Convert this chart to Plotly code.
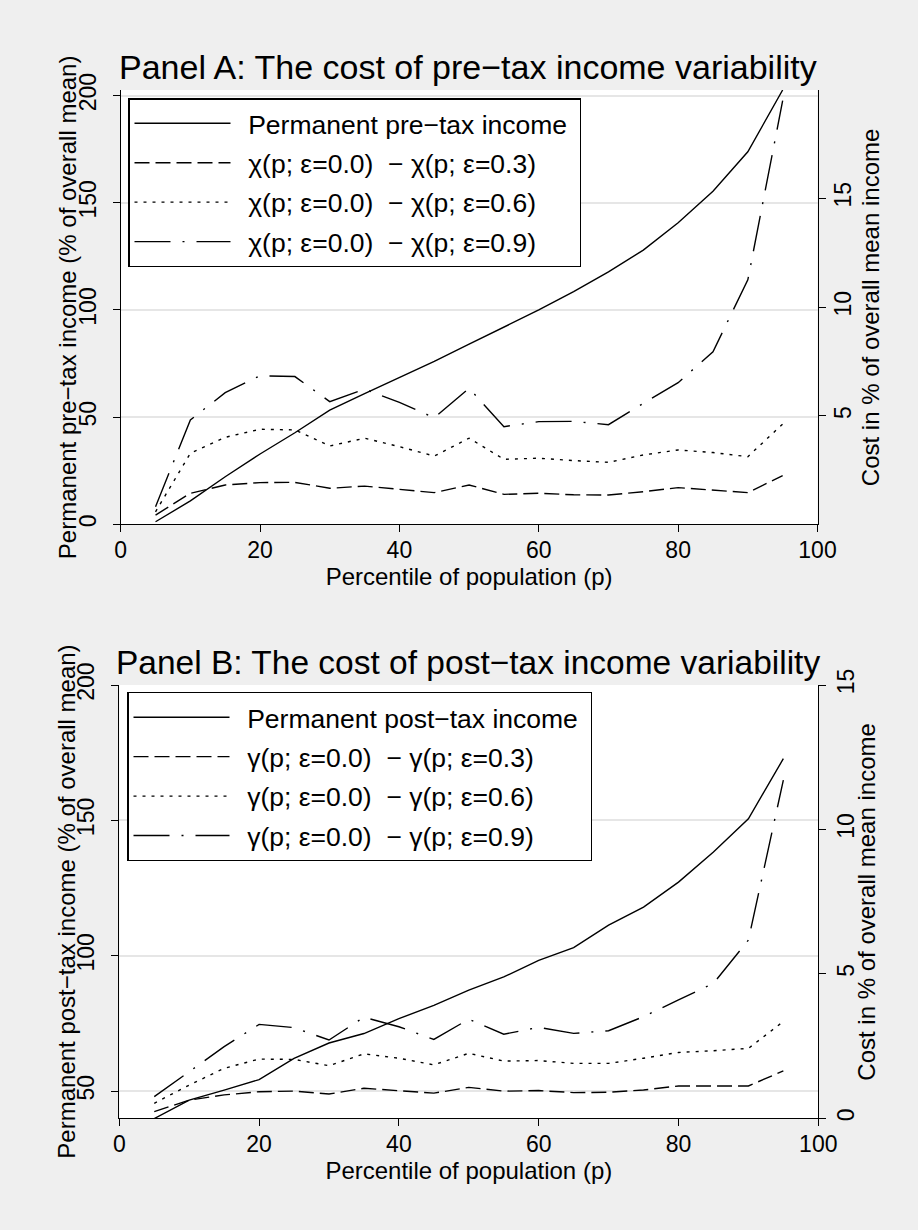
import plotly.graph_objects as go

# ---------------- data ----------------
pct = [5, 10, 15, 20, 25, 30, 35, 40, 45, 50, 55, 60, 65, 70, 75, 80, 85, 90, 95]

# Panel A (pre-tax)
perm_pre = [1.2, 10.9, 22.2, 32.8, 42.7, 53.3, 61.0, 68.5, 76.0, 84.0, 92.0, 100.0,
            108.5, 117.8, 127.9, 140.7, 155.4, 173.8, 202.6]
chi_03 = [0.45, 1.45, 1.83, 1.94, 1.95, 1.68, 1.78, 1.63, 1.48, 1.83, 1.40, 1.45,
          1.38, 1.37, 1.52, 1.71, 1.60, 1.48, 2.26]
chi_06 = [0.60, 3.29, 4.02, 4.39, 4.36, 3.62, 3.98, 3.59, 3.16, 3.98, 3.01, 3.06,
          2.95, 2.87, 3.21, 3.44, 3.32, 3.13, 4.63]
chi_09 = [0.83, 4.82, 6.07, 6.85, 6.81, 5.66, 6.23, 5.62, 4.92, 6.27, 4.51, 4.74,
          4.75, 4.60, 5.58, 6.53, 7.95, 11.25, 19.48]

# Panel B (post-tax)
perm_post = [39.9, 46.7, 50.4, 54.3, 62.1, 67.8, 71.3, 76.8, 81.7, 87.3, 92.2, 98.3,
             103.0, 111.3, 118.0, 127.2, 138.3, 150.6, 172.8]
gam_03 = [0.23, 0.63, 0.81, 0.92, 0.94, 0.84, 1.04, 0.96, 0.87, 1.07, 0.94, 0.96,
          0.89, 0.90, 0.98, 1.12, 1.13, 1.12, 1.64]
gam_06 = [0.52, 1.15, 1.73, 2.05, 2.04, 1.82, 2.23, 2.08, 1.85, 2.25, 1.98, 2.00,
          1.90, 1.90, 2.08, 2.28, 2.34, 2.42, 3.35]
gam_09 = [0.75, 1.61, 2.48, 3.25, 3.14, 2.71, 3.50, 3.17, 2.73, 3.43, 2.91, 3.15,
          2.94, 3.03, 3.52, 4.10, 4.67, 6.17, 11.71]

x_ticks = [0, 20, 40, 60, 80, 100]
a_left_ticks = [0, 50, 100, 150, 200]
a_right_ticks = [0, 5, 10, 15, 20]
b_left_ticks = [50, 100, 150, 200]
b_right_ticks = [0, 5, 10, 15]

a_left_range = [0, 202.6]
a_right_range = [0.025, 19.97]
b_left_range = [40, 200]
b_right_range = [0, 15]

GAP = "\u00a0\u2009"
names_a = [GAP + "Permanent pre\u2212tax income\u00a0",
           GAP + "\u03c7(p; \u03b5=0.0)\u00a0 \u2212 \u03c7(p; \u03b5=0.3)",
           GAP + "\u03c7(p; \u03b5=0.0)\u00a0 \u2212 \u03c7(p; \u03b5=0.6)",
           GAP + "\u03c7(p; \u03b5=0.0)\u00a0 \u2212 \u03c7(p; \u03b5=0.9)"]
names_b = [GAP + "Permanent post\u2212tax income\u00a0",
           GAP + "\u03b3(p; \u03b5=0.0)\u00a0 \u2212 \u03b3(p; \u03b5=0.3)",
           GAP + "\u03b3(p; \u03b5=0.0)\u00a0 \u2212 \u03b3(p; \u03b5=0.6)",
           GAP + "\u03b3(p; \u03b5=0.0)\u00a0 \u2212 \u03b3(p; \u03b5=0.9)"]

# ---------------- styles ----------------
FONT = "Liberation Sans, Arial, Helvetica, sans-serif"
W, H = 918, 1230
DASHES = ["solid", "15px,6px", "3px,6px", "36px,12px,2px,12px"]
LW = 1.4

fig = go.Figure()

series_a = [(perm_pre, "y"), (chi_03, "y2"), (chi_06, "y2"), (chi_09, "y2")]
for i, (vals, ya) in enumerate(series_a):
    fig.add_trace(go.Scatter(x=pct, y=vals, xaxis="x", yaxis=ya, mode="lines",
                             name=names_a[i], legend="legend", legendgroup="a%d" % i,
                             line=dict(color="black", width=LW, dash=DASHES[i])))

series_b = [(perm_post, "y3"), (gam_03, "y4"), (gam_06, "y4"), (gam_09, "y4")]
for i, (vals, ya) in enumerate(series_b):
    fig.add_trace(go.Scatter(x=pct, y=vals, xaxis="x2", yaxis=ya, mode="lines",
                             name=names_b[i], legend="legend2", legendgroup="b%d" % i,
                             line=dict(color="black", width=LW, dash=DASHES[i])))

# empty carrier traces so the label-only overlay axes are rendered
for xa, ya in [("x", "y5"), ("x", "y6"), ("x2", "y7"), ("x2", "y8")]:
    fig.add_trace(go.Scatter(x=[None], y=[None], xaxis=xa, yaxis=ya, mode="lines",
                             showlegend=False, hoverinfo="skip"))

def px_x(a, b):
    return [a / W, b / W]

def px_y(top, bottom):
    return [1 - bottom / H, 1 - top / H]

tickfont = dict(family=FONT, size=23, color="black")
titlefont = dict(family=FONT, size=24, color="black")
common_x = dict(range=[0, 100], tickvals=x_ticks, ticks="outside", ticklen=7,
                tickwidth=1.3, tickcolor="black", showline=True, linecolor="black",
                linewidth=1.3, showgrid=False, zeroline=False, tickfont=tickfont,
                automargin=False, ticklabelstandoff=-2,
                title=dict(text="Percentile of population (p)", font=titlefont, standoff=1))
# axes that draw the line, ticks and grid (no labels)
tick_y = dict(ticks="outside", ticklen=7, tickwidth=1.3, tickcolor="black",
              showline=True, linecolor="black", linewidth=1.3, zeroline=False,
              showticklabels=False, automargin=False)
# overlay axes that only carry the rotated labels (pushed out with invisible ticks)
label_y = dict(ticks="outside", tickwidth=1, tickcolor="rgba(0,0,0,0)",
               showline=False, showgrid=False, zeroline=False, tickfont=tickfont,
               tickangle=-90, automargin=False, ticklabelstandoff=0)

LEFT_LEN, RIGHT_LEN = 15, 5

legend_common = dict(xanchor="left", yanchor="top", bgcolor="white",
                     bordercolor="black", borderwidth=1.2,
                     font=dict(family=FONT, size=26.5, color="black"),
                     itemwidth=96, tracegroupgap=2, traceorder="grouped")

A_TOP, A_BOT = 90, 524.3
B_TOP, B_BOT = 685, 1118.3

def vtitle(text, xpx, ypx):
    return dict(text=text, xref="paper", yref="paper", x=xpx / W, y=1 - ypx / H,
                xanchor="center", yanchor="middle", textangle=-90, showarrow=False,
                font=titlefont)

fig.update_layout(
    width=W, height=H,
    margin=dict(l=0, r=0, t=0, b=0),
    paper_bgcolor="#EFEFEF", plot_bgcolor="white",
    font=dict(family=FONT, color="black"),
    hovermode=False,
    xaxis=dict(domain=px_x(120.7, 817.5), anchor="y", **common_x),
    yaxis=dict(domain=px_y(A_TOP, A_BOT), anchor="x", range=a_left_range,
               tickvals=a_left_ticks, showgrid=True, gridcolor="#E6E6E6", gridwidth=1.5,
               **tick_y),
    yaxis2=dict(overlaying="y", side="right", anchor="x", range=a_right_range,
                tickvals=a_right_ticks, showgrid=False, **tick_y),
    yaxis5=dict(overlaying="y", side="left", anchor="x", range=a_left_range,
                tickvals=a_left_ticks, ticklen=LEFT_LEN, **label_y),
    yaxis6=dict(overlaying="y", side="right", anchor="x", range=a_right_range,
                tickvals=a_right_ticks, ticklen=RIGHT_LEN, **label_y),
    xaxis2=dict(domain=px_x(119.3, 818.3), anchor="y3", **common_x),
    yaxis3=dict(domain=px_y(B_TOP, B_BOT), anchor="x2", range=b_left_range,
                tickvals=b_left_ticks, showgrid=True, gridcolor="#E6E6E6", gridwidth=1.5,
                **tick_y),
    yaxis4=dict(overlaying="y3", side="right", anchor="x2", range=b_right_range,
                tickvals=b_right_ticks, showgrid=False, **tick_y),
    yaxis7=dict(overlaying="y3", side="left", anchor="x2", range=b_left_range,
                tickvals=b_left_ticks, ticklen=LEFT_LEN, **label_y),
    yaxis8=dict(overlaying="y3", side="right", anchor="x2", range=b_right_range,
                tickvals=b_right_ticks, ticklen=RIGHT_LEN + 2, **label_y),
    legend=dict(x=128.3 / W, y=1 - 98.3 / H, **legend_common),
    legend2=dict(x=127.3 / W, y=1 - 692.3 / H, **legend_common),
    annotations=[
        dict(text="Panel A: The cost of pre\u2212tax income variability", xref="paper",
             yref="paper", x=468 / W, y=1 - 67 / H, xanchor="center", yanchor="middle",
             showarrow=False, font=dict(family=FONT, size=34, color="black")),
        dict(text="Panel B: The cost of post\u2212tax income variability", xref="paper",
             yref="paper", x=468 / W, y=1 - 662 / H, xanchor="center", yanchor="middle",
             showarrow=False, font=dict(family=FONT, size=33.5, color="black")),
        vtitle("Permanent pre\u2212tax income (% of overall mean)", 67, (A_TOP + A_BOT) / 2),
        vtitle("Cost in % of overall mean income", 870, (A_TOP + A_BOT) / 2),
        vtitle("Permanent post\u2212tax income (% of overall mean)", 67, (B_TOP + B_BOT) / 2),
        vtitle("Cost in % of overall mean income", 867, (B_TOP + B_BOT) / 2),
    ],
)

fig.write_html("out.html", config={"displayModeBar": False},
               post_script="document.body.style.margin='0';document.body.style.padding='0';")
